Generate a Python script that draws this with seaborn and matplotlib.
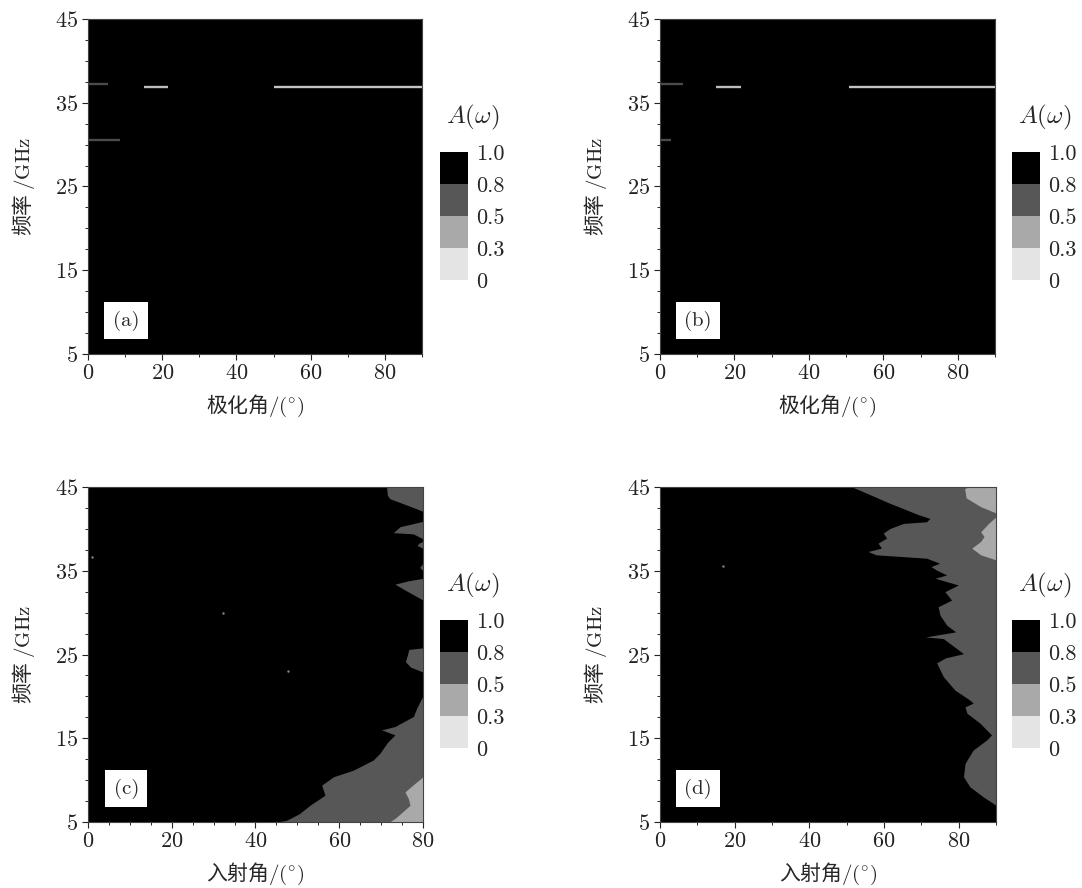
import matplotlib
matplotlib.use("Agg")
import matplotlib.pyplot as plt
import matplotlib as mpl
from matplotlib.colors import ListedColormap, BoundaryNorm
from matplotlib.ticker import MultipleLocator, FixedLocator
import seaborn as sns
import numpy as np

# --------------------
# data
# --------------------
levels = [0, 0.3, 0.5, 0.8, 1.0]
level_labels = ['0', '0.3', '0.5', '0.8', '1.0']
shades = ['#e4e4e4', '#a9a9a9', '#575757', '#000000']

# (a), (b): thin bright streaks (freq, angle start, angle end, shade)
a_streak_f = [37.2, 30.6, 36.9, 36.9]
a_streak_x0 = [0, 0, 15.0, 50.2]
a_streak_x1 = [5.5, 8.7, 21.5, 90]
a_streak_c = ['#4a4a4a', '#4a4a4a', '#bdbdbd', '#c4c4c4']

b_streak_f = [37.2, 30.6, 36.9, 36.9]
b_streak_x0 = [0, 0, 15.0, 50.8]
b_streak_x1 = [6.2, 3.0, 21.8, 90]
b_streak_c = ['#4a4a4a', '#4a4a4a', '#bdbdbd', '#c4c4c4']

# (c): edge of the A>0.8 zone (angle vs freq)
c_f = [5.0, 5.2, 6.0, 7.0, 8.2, 9.4, 10.4, 11.2, 12.4, 13.2, 14.5, 15.4, 16.0,
       16.4, 17.6, 18.6, 19.6, 20.0, 22.9, 23.5, 24.15, 25.0, 25.6, 25.8,
       31.5, 32.7, 33.4, 33.8, 34.1, 35.0, 35.4, 35.9, 37.7, 38.0, 38.3, 38.5,
       38.8, 39.4, 39.55, 40.26, 40.9, 42.1, 42.85, 43.6, 44.0, 45.0]
c_edge = [45.0, 47.4, 50.5, 53.0, 56.6, 55.8, 58.6, 63.4, 68.1, 69.7, 71.5, 73.3, 70.1,
          73.3, 77.7, 78.5, 79.5, 80.0, 80.0, 77.0, 75.8, 76.3, 76.6, 80.0,
          80.0, 75.7, 73.3, 76.5, 80.0, 80.0, 79.2, 80.0, 80.0, 78.6, 79.0, 80.0,
          80.0, 77.7, 72.9, 74.5, 80.0, 80.0, 76.1, 72.1, 71.5, 71.3]
# (c): edge of the A<0.5 zone
c_light_f = [5.0, 5.5, 7.0, 7.8, 8.6, 9.5, 10.4]
c_light_edge = [72.0, 73.5, 76.9, 76.5, 75.7, 77.8, 80.0]
c_dot_x = [0.9, 32.2, 47.8]
c_dot_f = [36.6, 30.0, 23.0]

# (d): edge of the A>0.8 zone
d_f = [5.0, 7.0, 8.0, 9.2, 10.4, 12.0, 13.6, 14.8, 15.4, 16.8, 18.0, 18.75, 19.2,
       19.55, 20.75, 22.35, 24.0, 24.6, 25.1, 25.7, 26.9, 27.1, 27.7, 28.5, 29.7,
       30.7, 31.5, 32.5, 33.3, 34.1, 34.5, 35.1, 35.5, 35.9, 36.5, 36.9, 37.3,
       37.7, 38.3, 38.9, 39.5, 40.05, 40.65, 40.85, 41.25, 41.7, 42.25, 43.05,
       44.25, 45.0]
d_edge = [90.0, 90.0, 86.6, 83.0, 81.3, 81.7, 83.9, 87.5, 88.8, 85.7, 82.2, 81.7, 83.9,
          83.0, 79.0, 75.9, 74.1, 76.5, 81.3, 79.5, 75.9, 71.1, 79.2, 76.8, 75.0,
          74.5, 78.1, 76.3, 79.9, 73.7, 76.8, 74.0, 72.6, 74.9, 71.4, 57.9, 55.7,
          59.3, 58.4, 60.7, 59.8, 61.6, 65.2, 71.4, 72.3, 69.2, 66.1, 61.6,
          55.4, 51.5]
# (d): two A<0.5 blobs near the top right
d_blob1_f = [41.9, 42.65, 43.7, 44.8, 45.0]
d_blob1_edge = [90.0, 85.9, 82.0, 81.6, 82.5]
d_blob2_f = [36.3, 36.9, 37.7, 38.5, 39.1, 39.65, 40.65, 41.45]
d_blob2_edge = [90.0, 85.9, 83.5, 85.9, 86.8, 85.9, 88.0, 90.0]
d_dot_x = [17.0]
d_dot_f = [35.6]

# --------------------
# style
# --------------------
sns.set_style("ticks")
plt.rcParams['font.family'] = ['cmr10', 'DejaVu Sans']
plt.rcParams['mathtext.fontset'] = 'cm'
plt.rcParams['axes.formatter.use_mathtext'] = True
plt.rcParams['axes.unicode_minus'] = False
cjk = ['Noto Sans CJK SC', 'DejaVu Sans']

fig = plt.figure(figsize=(10.82, 8.88), dpi=100)
W, H = 1082, 888

def px_axes(x0, y0, x1, y1):
    return fig.add_axes([x0 / W, 1 - y1 / H, (x1 - x0) / W, (y1 - y0) / H])

cmap = ListedColormap(shades)
norm = BoundaryNorm(levels, cmap.N)

def setup(ax, xmax, xminor, xlabel, tag):
    ax.set_facecolor('black')
    ax.set_xlim(0, xmax)
    ax.set_ylim(5, 45)
    ax.xaxis.set_major_locator(MultipleLocator(20))
    ax.xaxis.set_minor_locator(MultipleLocator(xminor))
    ax.yaxis.set_major_locator(FixedLocator([5, 15, 25, 35, 45]))
    ax.yaxis.set_minor_locator(MultipleLocator(2.5))
    ax.tick_params(which='major', direction='out', length=4, width=0.8,
                   labelsize=16, colors='#222', pad=3)
    ax.tick_params(which='minor', direction='out', length=2.5, width=0.7, colors='#222')
    for s in ax.spines.values():
        s.set_color('#444')
        s.set_linewidth(0.8)
    ax.set_xlabel(xlabel, fontsize=15, labelpad=7, family=cjk)
    ax.set_ylabel('频率 $/\\mathrm{GHz}$', fontsize=15, labelpad=13, family=cjk)
    ax.text(0.114, 0.099, tag, transform=ax.transAxes, fontsize=15,
            ha='center', va='center',
            bbox=dict(boxstyle='square,pad=0.4', fc='white', ec='none'))

def add_cbar(x0, y0):
    cax = px_axes(x0, y0, x0 + 28, y0 + 128)
    cb = mpl.colorbar.ColorbarBase(cax, cmap=cmap, norm=norm, spacing='uniform',
                                   ticks=levels, orientation='vertical')
    cb.set_ticklabels(level_labels)
    cb.outline.set_visible(False)
    cax.tick_params(length=0, labelsize=16, pad=6)
    cax.text(1.15, 1.27, '$A(\\omega)$', transform=cax.transAxes,
             fontsize=18, ha='center', va='center')

xlab_pol = '极化角$/(^{\\circ})$'
xlab_inc = '入射角$/(^{\\circ})$'

# (a)
ax_a = px_axes(88, 19, 422, 354)
setup(ax_a, 90, 10, xlab_pol, '(a)')
ax_a.hlines(a_streak_f, a_streak_x0, a_streak_x1, colors=a_streak_c, linewidth=1.7)
add_cbar(440, 152)

# (b)
ax_b = px_axes(660, 19, 995, 354)
setup(ax_b, 90, 10, xlab_pol, '(b)')
ax_b.hlines(b_streak_f, b_streak_x0, b_streak_x1, colors=b_streak_c, linewidth=1.7)
add_cbar(1012, 152)

# (c)
ax_c = px_axes(88, 487, 423, 822)
setup(ax_c, 80, 5, xlab_inc, '(c)')
ax_c.fill_betweenx(c_f, c_edge, 80, color=shades[2], linewidth=0)
ax_c.fill_betweenx(c_light_f, c_light_edge, 80, color=shades[1], linewidth=0)
ax_c.scatter(c_dot_x, c_dot_f, s=3, color='#888', linewidths=0)
add_cbar(440, 620)

# (d)
ax_d = px_axes(660, 487, 996, 822)
setup(ax_d, 90, 10, xlab_inc, '(d)')
ax_d.fill_betweenx(d_f, d_edge, 90, color=shades[2], linewidth=0)
ax_d.fill_betweenx(d_blob1_f, d_blob1_edge, 90, color=shades[1], linewidth=0)
ax_d.fill_betweenx(d_blob2_f, d_blob2_edge, 90, color=shades[1], linewidth=0)
ax_d.scatter(d_dot_x, d_dot_f, s=3, color='#888', linewidths=0)
add_cbar(1012, 620)

fig.savefig('out.png', dpi=100)
